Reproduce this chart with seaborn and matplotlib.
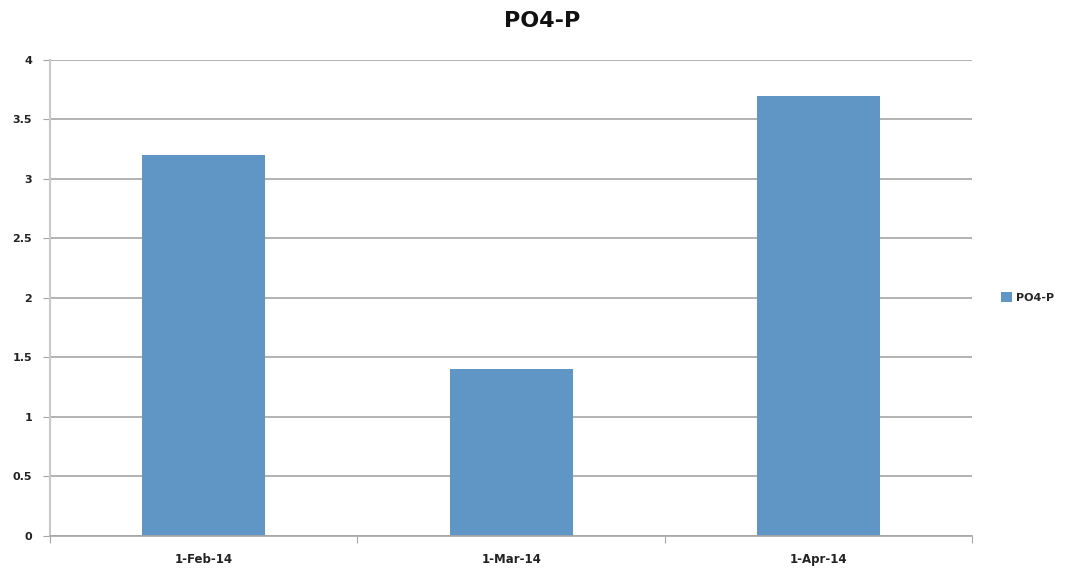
import matplotlib
matplotlib.use('Agg')
import matplotlib.pyplot as plt
import seaborn as sns
import pandas as pd

# данные
dates = ['1-Feb-14', '1-Mar-14', '1-Apr-14']
po4_p = [3.2, 1.4, 3.7]
y_ticks = [0, 0.5, 1, 1.5, 2, 2.5, 3, 3.5, 4]
y_labels = ['0', '0.5', '1', '1.5', '2', '2.5', '3', '3.5', '4']

df = pd.DataFrame({'date': dates, 'value': po4_p, 'series': 'PO4-P'})

sns.set_style('white')
plt.rcParams['font.family'] = ['DejaVu Sans']

fig = plt.figure(figsize=(10.65, 5.75), dpi=100)
ax = fig.add_axes([0.047, 0.068, 0.866, 0.828])

bar_color = '#6096c6'
sns.barplot(data=df, x='date', y='value', hue='series', palette=[bar_color],
            width=0.4, saturation=1, ax=ax, legend=True, linewidth=0)

ax.set_ylim(0, 4)
ax.set_xlim(-0.5, 2.5)
ax.set_yticks(y_ticks)
ax.set_yticklabels(y_labels, fontsize=8, fontweight='bold', color='#222222')
ax.yaxis.grid(True, color='#a6a6a6', linewidth=1.2)
ax.set_axisbelow(True)

# подписи категорий по центру, засечки на границах
ax.set_xticks([-0.5, 0.5, 1.5, 2.5])
ax.set_xticklabels([])
ax.set_xticks([0, 1, 2], minor=True)
ax.set_xticklabels(dates, minor=True, fontsize=8.5, fontweight='bold', color='#222222')
ax.tick_params(axis='x', which='major', length=5, color='#a6a6a6', direction='out', bottom=True)
ax.tick_params(axis='x', which='minor', length=0, pad=12)
ax.tick_params(axis='y', length=5, color='#a6a6a6', direction='out', left=True, pad=8)

ax.set_xlabel('')
ax.set_ylabel('')
for s in ['top', 'right']:
    ax.spines[s].set_visible(False)
ax.spines['left'].set_color('#c8c8c8')
ax.spines['left'].set_linewidth(1.5)
ax.spines['bottom'].set_color('#a6a6a6')
ax.spines['bottom'].set_linewidth(1.2)

ax.legend(loc='center left', bbox_to_anchor=(1.02, 0.5), frameon=False,
          prop={'size': 8, 'weight': 'bold'}, handlelength=1.0, handleheight=1.0,
          handletextpad=0.4)

fig.text(0.509, 0.963, 'PO4-P', ha='center', va='center', fontsize=16, fontweight='bold',
         color='#111111')

fig.savefig('out.png', dpi=100)
